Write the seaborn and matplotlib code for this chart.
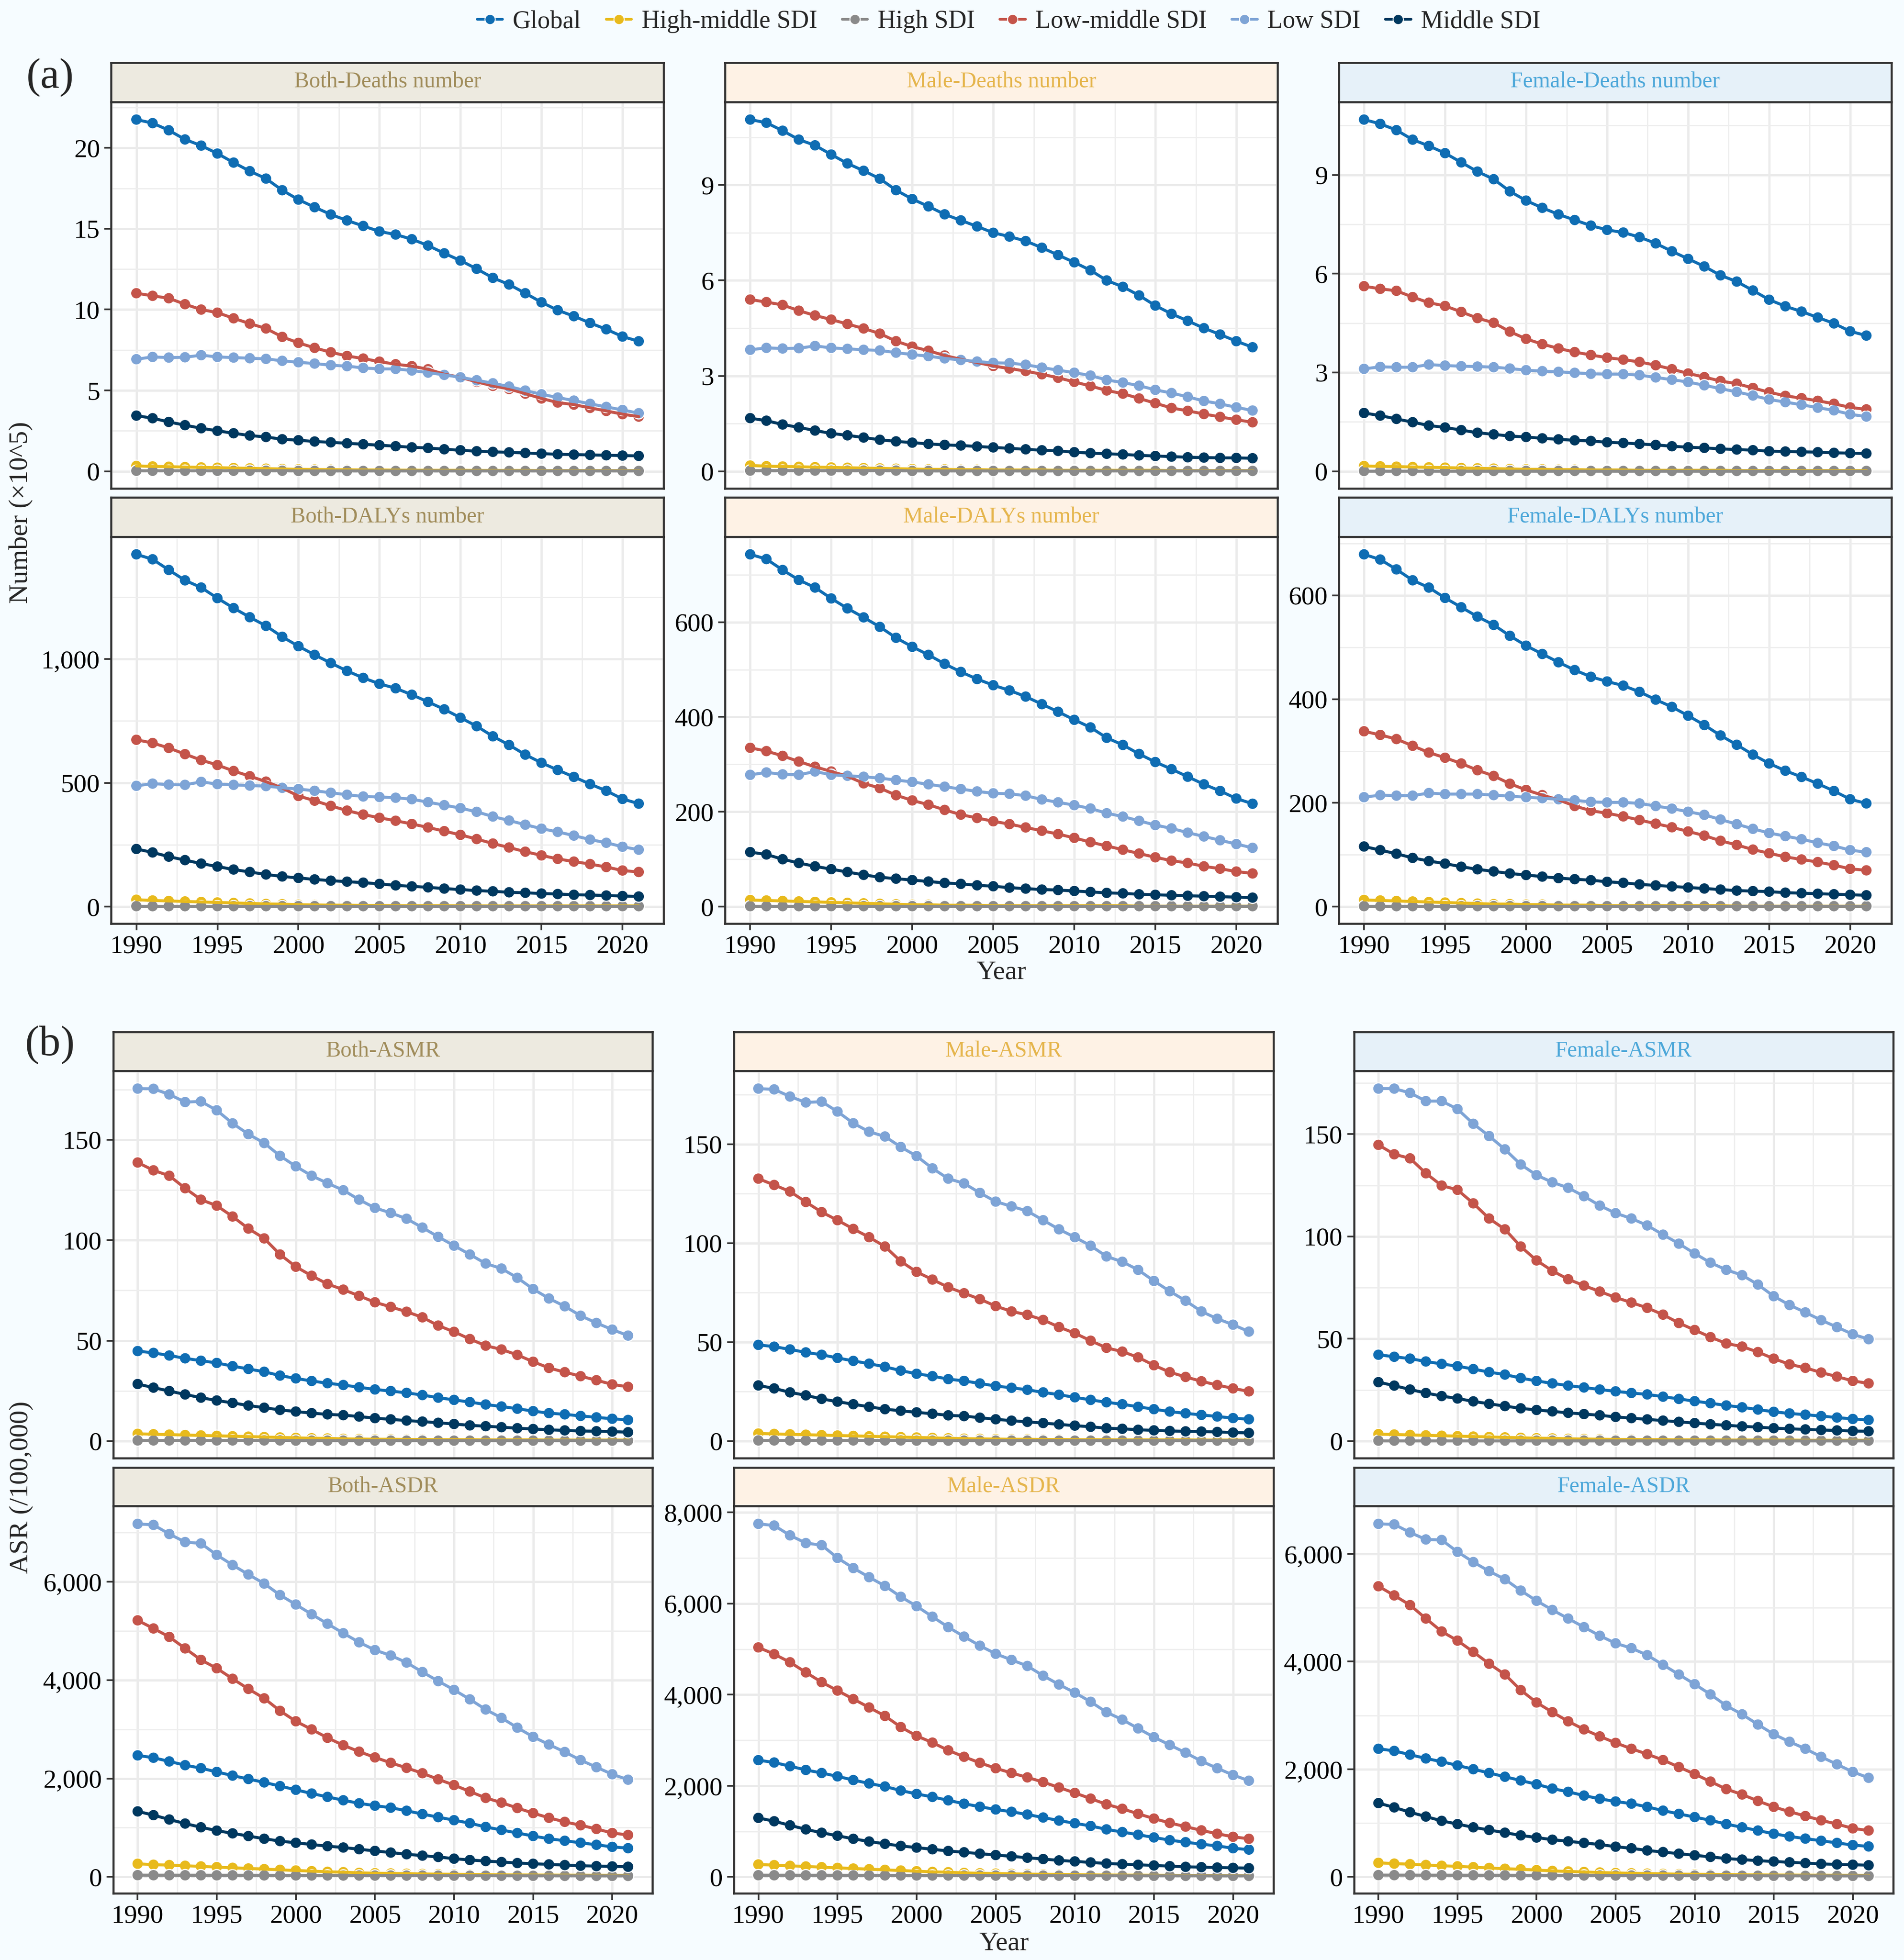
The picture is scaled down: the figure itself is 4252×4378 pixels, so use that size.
import numpy as np
import pandas as pd
import matplotlib
matplotlib.use("Agg")
import matplotlib.pyplot as plt
import seaborn as sns
from matplotlib.ticker import MultipleLocator, FuncFormatter
from matplotlib.lines import Line2D

sns.set_theme(style="white")
plt.rcParams['font.family'] = ['Liberation Serif', 'DejaVu Serif']

years = list(range(1990, 2022))
locations = ["Global", "High-middle SDI", "High SDI", "Low-middle SDI", "Low SDI", "Middle SDI"]
colors = ["#0F6DB3", "#E8BA1C", "#8A8A8A", "#C4544A", "#7EA4D6", "#00385F"]

# ---- (a) numbers ----
both_deaths = {
    "Global": [21.75, 21.53, 21.09, 20.52, 20.14, 19.65, 19.09, 18.56, 18.10, 17.38, 16.80, 16.33, 15.88, 15.51, 15.17, 14.83,
               14.64, 14.35, 13.96, 13.48, 13.03, 12.52, 11.96, 11.55, 11.01, 10.45, 9.96, 9.59, 9.17, 8.78, 8.33, 8.04],
    "High-middle SDI": [0.33, 0.30, 0.28, 0.26, 0.24, 0.22, 0.20, 0.18, 0.16, 0.14, 0.12, 0.11, 0.10, 0.09, 0.08, 0.08,
                        0.07, 0.07, 0.06, 0.06, 0.06, 0.05, 0.05, 0.05, 0.05, 0.04, 0.04, 0.04, 0.04, 0.04, 0.04, 0.04],
    "High SDI": [0.03, 0.03, 0.03, 0.03, 0.03, 0.03, 0.03, 0.03, 0.03, 0.03, 0.02, 0.02, 0.02, 0.02, 0.02, 0.02,
                 0.02, 0.02, 0.02, 0.02, 0.02, 0.02, 0.02, 0.02, 0.02, 0.02, 0.02, 0.02, 0.02, 0.02, 0.02, 0.02],
    "Low-middle SDI": [11.01, 10.85, 10.70, 10.33, 10.00, 9.81, 9.46, 9.13, 8.83, 8.31, 7.94, 7.63, 7.36, 7.13, 6.97, 6.78,
                       6.62, 6.50, 6.31, 6.00, 5.81, 5.53, 5.28, 5.09, 4.80, 4.50, 4.25, 4.12, 3.92, 3.73, 3.53, 3.38],
    "Low SDI": [6.93, 7.07, 7.03, 7.05, 7.18, 7.07, 7.03, 6.99, 6.95, 6.83, 6.74, 6.66, 6.56, 6.50, 6.39, 6.33,
                6.33, 6.23, 6.10, 5.96, 5.81, 5.63, 5.44, 5.24, 4.99, 4.76, 4.56, 4.37, 4.17, 3.98, 3.79, 3.59],
    "Middle SDI": [3.44, 3.28, 3.05, 2.85, 2.66, 2.50, 2.35, 2.21, 2.12, 1.98, 1.92, 1.84, 1.79, 1.73, 1.67, 1.61,
                   1.55, 1.48, 1.44, 1.36, 1.30, 1.24, 1.20, 1.17, 1.13, 1.09, 1.05, 1.03, 1.01, 0.99, 0.97, 0.95],
}
male_deaths = {
    "Global": [11.06, 10.96, 10.71, 10.43, 10.25, 9.96, 9.68, 9.45, 9.20, 8.84, 8.56, 8.33, 8.08, 7.89, 7.70, 7.50,
               7.38, 7.24, 7.03, 6.80, 6.57, 6.32, 6.00, 5.80, 5.53, 5.21, 4.95, 4.73, 4.50, 4.30, 4.09, 3.90],
    "High-middle SDI": [0.18, 0.16, 0.15, 0.14, 0.13, 0.12, 0.11, 0.10, 0.09, 0.08, 0.07, 0.06, 0.06, 0.05, 0.05, 0.04,
                        0.04, 0.04, 0.04, 0.03, 0.03, 0.03, 0.03, 0.03, 0.03, 0.03, 0.02, 0.02, 0.02, 0.02, 0.02, 0.02],
    "High SDI": [0.02, 0.02, 0.02, 0.02, 0.02, 0.02, 0.02, 0.02, 0.02, 0.02, 0.01, 0.01, 0.01, 0.01, 0.01, 0.01,
                 0.01, 0.01, 0.01, 0.01, 0.01, 0.01, 0.01, 0.01, 0.01, 0.01, 0.01, 0.01, 0.01, 0.01, 0.01, 0.01],
    "Low-middle SDI": [5.40, 5.32, 5.23, 5.05, 4.90, 4.77, 4.63, 4.49, 4.33, 4.09, 3.92, 3.79, 3.64, 3.52, 3.42, 3.31,
                       3.23, 3.15, 3.05, 2.94, 2.81, 2.68, 2.54, 2.44, 2.29, 2.14, 1.99, 1.90, 1.80, 1.71, 1.62, 1.54],
    "Low SDI": [3.82, 3.88, 3.86, 3.87, 3.94, 3.88, 3.85, 3.82, 3.80, 3.73, 3.67, 3.62, 3.55, 3.50, 3.45, 3.41,
                3.40, 3.35, 3.26, 3.18, 3.10, 3.01, 2.87, 2.79, 2.69, 2.56, 2.46, 2.34, 2.21, 2.12, 2.01, 1.91],
    "Middle SDI": [1.67, 1.59, 1.47, 1.38, 1.28, 1.19, 1.13, 1.06, 0.99, 0.94, 0.90, 0.86, 0.83, 0.81, 0.78, 0.75,
                   0.72, 0.69, 0.66, 0.64, 0.60, 0.57, 0.55, 0.53, 0.50, 0.48, 0.46, 0.44, 0.43, 0.42, 0.42, 0.41],
}
female_deaths = {
    "Global": [10.68, 10.55, 10.36, 10.07, 9.88, 9.66, 9.38, 9.10, 8.87, 8.50, 8.22, 8.00, 7.80, 7.63, 7.46, 7.33,
               7.25, 7.11, 6.92, 6.68, 6.45, 6.22, 5.95, 5.76, 5.49, 5.21, 5.01, 4.85, 4.67, 4.49, 4.25, 4.12],
    "High-middle SDI": [0.16, 0.15, 0.14, 0.13, 0.12, 0.11, 0.10, 0.09, 0.08, 0.07, 0.06, 0.06, 0.05, 0.05, 0.04, 0.04,
                        0.04, 0.03, 0.03, 0.03, 0.03, 0.03, 0.03, 0.02, 0.02, 0.02, 0.02, 0.02, 0.02, 0.02, 0.02, 0.02],
    "High SDI": [0.01, 0.01, 0.01, 0.01, 0.01, 0.01, 0.01, 0.01, 0.01, 0.01, 0.01, 0.01, 0.01, 0.01, 0.01, 0.01,
                 0.01, 0.01, 0.01, 0.01, 0.01, 0.01, 0.01, 0.01, 0.01, 0.01, 0.01, 0.01, 0.01, 0.01, 0.01, 0.01],
    "Low-middle SDI": [5.62, 5.54, 5.48, 5.29, 5.12, 5.02, 4.84, 4.65, 4.51, 4.24, 4.02, 3.86, 3.73, 3.62, 3.53, 3.45,
                       3.39, 3.32, 3.22, 3.10, 2.97, 2.86, 2.74, 2.66, 2.53, 2.40, 2.29, 2.22, 2.14, 2.05, 1.94, 1.88],
    "Low SDI": [3.11, 3.17, 3.16, 3.16, 3.24, 3.21, 3.19, 3.18, 3.16, 3.12, 3.07, 3.04, 3.02, 2.99, 2.96, 2.95,
                2.95, 2.92, 2.85, 2.78, 2.71, 2.61, 2.51, 2.41, 2.30, 2.18, 2.10, 2.02, 1.93, 1.85, 1.73, 1.66],
    "Middle SDI": [1.77, 1.69, 1.59, 1.49, 1.39, 1.33, 1.25, 1.17, 1.12, 1.07, 1.04, 1.00, 0.97, 0.94, 0.92, 0.88,
                   0.86, 0.83, 0.80, 0.76, 0.73, 0.71, 0.68, 0.66, 0.64, 0.61, 0.60, 0.59, 0.58, 0.56, 0.55, 0.54],
}
both_dalys = {
    "Global": [1423, 1403, 1360, 1318, 1289, 1246, 1206, 1169, 1134, 1090, 1052, 1017, 984, 952, 924, 900,
               882, 856, 827, 797, 763, 729, 688, 653, 614, 581, 552, 524, 495, 468, 435, 416],
    "High-middle SDI": [28, 25, 23, 21, 19, 17, 15, 13, 11, 10, 8, 7, 6, 6, 5, 5,
                        4, 4, 4, 4, 3, 3, 3, 3, 3, 3, 3, 3, 3, 3, 3, 3],
    "High SDI": [2, 2, 2, 2, 2, 2, 2, 2, 2, 2, 2, 2, 2, 2, 2, 2,
                 2, 2, 2, 2, 2, 2, 2, 2, 2, 2, 2, 2, 2, 2, 2, 2],
    "Low-middle SDI": [674, 661, 641, 616, 592, 572, 548, 527, 505, 479, 447, 428, 407, 388, 372, 359,
                       347, 334, 320, 305, 290, 273, 255, 239, 222, 207, 193, 182, 172, 160, 146, 140],
    "Low SDI": [488, 497, 493, 492, 504, 495, 492, 489, 487, 480, 475, 468, 460, 452, 445, 443,
                440, 434, 422, 410, 398, 383, 364, 348, 331, 315, 302, 287, 271, 258, 242, 230],
    "Middle SDI": [233, 219, 202, 188, 174, 162, 150, 140, 130, 122, 116, 110, 105, 101, 97, 92,
                   86, 82, 78, 73, 69, 65, 62, 58, 56, 53, 51, 48, 47, 45, 43, 41],
}
male_dalys = {
    "Global": [743, 733, 710, 689, 673, 650, 629, 610, 590, 567, 548, 531, 512, 495, 480, 467,
               456, 443, 427, 411, 394, 378, 356, 341, 322, 305, 290, 274, 258, 244, 228, 217],
    "High-middle SDI": [14, 13, 12, 11, 10, 9, 8, 7, 6, 5, 4, 4, 3, 3, 3, 2,
                        2, 2, 2, 2, 2, 2, 2, 2, 1, 1, 1, 1, 1, 1, 1, 1],
    "High SDI": [1, 1, 1, 1, 1, 1, 1, 1, 1, 1, 1, 1, 1, 1, 1, 1,
                 1, 1, 1, 1, 1, 1, 1, 1, 1, 1, 1, 1, 1, 1, 1, 1],
    "Low-middle SDI": [335, 328, 318, 306, 295, 285, 275, 260, 250, 235, 224, 215, 204, 194, 187, 180,
                       174, 167, 160, 153, 145, 136, 128, 120, 112, 104, 97, 92, 85, 80, 74, 70],
    "Low SDI": [278, 283, 279, 278, 285, 278, 276, 274, 271, 267, 263, 258, 253, 248, 243, 239,
                238, 234, 226, 220, 214, 207, 197, 190, 181, 172, 165, 156, 148, 140, 132, 124],
    "Middle SDI": [115, 110, 100, 92, 85, 79, 73, 67, 62, 59, 56, 53, 50, 48, 45, 43,
                   40, 38, 36, 35, 33, 31, 29, 28, 26, 25, 24, 23, 22, 21, 20, 19],
}
female_dalys = {
    "Global": [679, 669, 650, 629, 615, 595, 577, 559, 543, 522, 503, 487, 471, 456, 443, 434,
               426, 414, 399, 385, 368, 350, 330, 312, 293, 276, 262, 250, 237, 223, 207, 199],
    "High-middle SDI": [13, 12, 11, 10, 9, 8, 7, 6, 5, 5, 4, 4, 3, 3, 3, 2,
                        2, 2, 2, 2, 2, 2, 2, 1, 1, 1, 1, 1, 1, 1, 1, 1],
    "High SDI": [1, 1, 1, 1, 1, 1, 1, 1, 1, 1, 1, 1, 1, 1, 1, 1,
                 1, 1, 1, 1, 1, 1, 1, 1, 1, 1, 1, 1, 1, 1, 1, 1],
    "Low-middle SDI": [338, 331, 323, 310, 297, 287, 276, 263, 252, 237, 225, 215, 206, 194, 185, 180,
                       174, 167, 160, 153, 145, 137, 127, 119, 110, 103, 96, 91, 86, 80, 73, 70],
    "Low SDI": [211, 215, 214, 214, 219, 217, 217, 217, 215, 213, 211, 209, 207, 205, 202, 201,
                201, 199, 194, 189, 183, 177, 168, 159, 150, 142, 136, 130, 123, 117, 109, 105],
    "Middle SDI": [116, 109, 102, 94, 88, 83, 77, 72, 68, 64, 61, 58, 55, 53, 51, 48,
                   46, 43, 41, 39, 37, 35, 33, 31, 30, 29, 27, 26, 25, 24, 23, 22],
}

# ---- (b) age-standardised rates ----
both_asmr = {
    "Global": [44.8, 43.9, 42.6, 41.2, 40.0, 38.9, 37.3, 35.9, 34.5, 32.6, 31.2, 29.9, 28.8, 27.9, 26.8, 25.7,
               24.9, 24.0, 22.9, 21.6, 20.5, 19.4, 18.2, 17.2, 16.1, 14.9, 13.9, 13.3, 12.5, 11.8, 11.1, 10.5],
    "High-middle SDI": [3.6, 3.4, 3.2, 3.0, 2.8, 2.6, 2.4, 2.2, 2.0, 1.8, 1.6, 1.4, 1.3, 1.1, 1.0, 0.9,
                        0.9, 0.8, 0.8, 0.7, 0.7, 0.7, 0.6, 0.6, 0.6, 0.6, 0.5, 0.5, 0.5, 0.5, 0.5, 0.5],
    "High SDI": [0.3, 0.3, 0.3, 0.3, 0.3, 0.3, 0.3, 0.3, 0.3, 0.3, 0.2, 0.2, 0.2, 0.2, 0.2, 0.2,
                 0.2, 0.2, 0.2, 0.2, 0.2, 0.2, 0.2, 0.2, 0.2, 0.2, 0.2, 0.2, 0.2, 0.2, 0.2, 0.2],
    "Low-middle SDI": [138.7, 134.8, 132.1, 125.9, 120.2, 117.2, 111.8, 105.8, 100.9, 92.9, 86.8, 82.3, 78.2, 75.4, 72.3, 69.1,
                       66.8, 64.4, 61.6, 57.5, 54.4, 50.8, 47.5, 45.6, 42.9, 39.5, 36.4, 34.3, 32.3, 30.3, 28.2, 27.0],
    "Low SDI": [175.5, 175.4, 172.6, 168.8, 169.1, 164.7, 158.2, 152.8, 148.4, 142.0, 136.8, 132.1, 128.4, 124.9, 120.2, 116.1,
                113.6, 110.7, 106.3, 101.7, 97.3, 92.9, 88.4, 85.9, 81.3, 75.7, 71.0, 67.1, 62.4, 58.8, 55.5, 52.5],
    "Middle SDI": [28.4, 26.6, 24.9, 23.2, 21.6, 20.2, 19.0, 17.7, 16.6, 15.5, 14.7, 13.9, 13.3, 12.9, 12.2, 11.4,
                   10.8, 10.2, 9.7, 9.1, 8.5, 7.8, 7.4, 6.9, 6.4, 6.0, 5.6, 5.3, 5.0, 4.9, 4.7, 4.4],
}
male_asmr = {
    "Global": [48.6, 47.7, 46.3, 44.8, 43.6, 42.0, 40.5, 39.1, 37.5, 35.6, 34.0, 32.8, 31.3, 30.4, 29.1, 27.8,
               26.9, 25.9, 24.6, 23.4, 22.1, 20.8, 19.6, 18.6, 17.3, 16.1, 14.9, 14.0, 13.2, 12.4, 11.6, 11.0],
    "High-middle SDI": [3.8, 3.6, 3.4, 3.2, 3.0, 2.8, 2.6, 2.4, 2.2, 2.0, 1.8, 1.6, 1.4, 1.2, 1.1, 1.0,
                        0.9, 0.9, 0.8, 0.8, 0.7, 0.7, 0.7, 0.6, 0.6, 0.6, 0.6, 0.6, 0.5, 0.5, 0.5, 0.5],
    "High SDI": [0.3, 0.3, 0.3, 0.3, 0.3, 0.3, 0.3, 0.3, 0.3, 0.3, 0.2, 0.2, 0.2, 0.2, 0.2, 0.2,
                 0.2, 0.2, 0.2, 0.2, 0.2, 0.2, 0.2, 0.2, 0.2, 0.2, 0.2, 0.2, 0.2, 0.2, 0.2, 0.2],
    "Low-middle SDI": [132.6, 129.4, 126.1, 120.8, 115.7, 111.6, 107.2, 103.0, 98.3, 90.8, 85.5, 81.6, 77.7, 74.7, 71.7, 68.2,
                       65.5, 63.8, 61.2, 57.6, 54.5, 50.7, 47.1, 45.2, 42.3, 38.3, 34.8, 32.4, 30.2, 28.3, 26.6, 25.1],
    "Low SDI": [178.1, 177.7, 174.1, 171.1, 171.5, 166.5, 160.6, 156.3, 153.9, 148.6, 144.0, 137.8, 132.6, 130.2, 125.4, 121.0,
                118.6, 116.2, 111.6, 107.0, 103.0, 98.7, 93.3, 90.6, 86.5, 80.9, 75.7, 70.9, 65.5, 61.8, 58.8, 55.3],
    "Middle SDI": [28.1, 26.6, 24.6, 23.1, 21.3, 19.9, 18.6, 17.3, 16.1, 15.3, 14.5, 13.8, 13.0, 12.6, 11.8, 11.0,
                   10.3, 9.7, 9.1, 8.4, 7.8, 7.2, 6.5, 6.2, 5.7, 5.4, 5.1, 4.9, 4.8, 4.6, 4.3, 4.1],
}
female_asmr = {
    "Global": [42.2, 41.2, 40.3, 38.9, 37.7, 36.6, 35.2, 33.7, 32.5, 30.8, 29.4, 28.2, 27.1, 26.2, 25.2, 24.3,
               23.5, 22.8, 21.7, 20.6, 19.5, 18.5, 17.4, 16.5, 15.4, 14.3, 13.5, 12.9, 12.2, 11.5, 10.8, 10.3],
    "High-middle SDI": [3.4, 3.2, 3.0, 2.8, 2.6, 2.4, 2.2, 2.0, 1.8, 1.6, 1.4, 1.3, 1.1, 1.0, 0.9, 0.8,
                        0.8, 0.7, 0.7, 0.6, 0.6, 0.6, 0.5, 0.5, 0.5, 0.5, 0.5, 0.4, 0.4, 0.4, 0.4, 0.4],
    "High SDI": [0.2, 0.2, 0.2, 0.2, 0.2, 0.2, 0.2, 0.2, 0.2, 0.2, 0.2, 0.2, 0.2, 0.2, 0.2, 0.2,
                 0.2, 0.2, 0.2, 0.2, 0.2, 0.2, 0.2, 0.2, 0.2, 0.2, 0.2, 0.2, 0.2, 0.2, 0.2, 0.2],
    "Low-middle SDI": [144.8, 140.2, 138.2, 130.9, 124.9, 122.8, 116.2, 108.8, 103.5, 95.1, 88.3, 83.2, 79.1, 76.0, 73.1, 70.2,
                       67.7, 65.1, 61.8, 57.7, 54.3, 50.8, 47.7, 46.2, 43.5, 40.3, 37.5, 35.8, 33.5, 31.5, 29.4, 28.2],
    "Low SDI": [172.3, 172.3, 170.2, 166.2, 166.2, 162.3, 155.1, 149.1, 142.6, 135.2, 130.0, 126.5, 123.8, 119.7, 115.1, 111.4,
                108.8, 105.4, 100.9, 96.5, 91.7, 87.2, 83.7, 81.1, 76.5, 70.8, 66.5, 62.9, 59.1, 55.7, 52.2, 49.8],
    "Middle SDI": [28.8, 27.1, 25.2, 23.5, 22.0, 20.8, 19.4, 18.2, 17.1, 16.0, 15.2, 14.5, 13.8, 13.2, 12.6, 11.8,
                   11.2, 10.6, 10.0, 9.4, 8.8, 8.2, 7.7, 7.2, 6.8, 6.3, 6.0, 5.7, 5.4, 5.2, 4.9, 4.8],
}
both_asdr = {
    "Global": [2469, 2421, 2346, 2270, 2209, 2133, 2058, 1989, 1920, 1845, 1770, 1694, 1626, 1557, 1495, 1447,
               1406, 1344, 1276, 1214, 1152, 1091, 1015, 953, 892, 830, 775, 734, 693, 652, 610, 583],
    "High-middle SDI": [267, 247, 240, 226, 213, 199, 185, 171, 158, 144, 130, 117, 103, 96, 82, 75,
                        70, 65, 60, 56, 52, 48, 45, 42, 40, 38, 36, 34, 33, 32, 31, 30],
    "High SDI": [35, 34, 34, 33, 33, 32, 32, 31, 31, 30, 30, 29, 29, 28, 28, 27,
                 27, 26, 26, 25, 25, 24, 24, 23, 23, 22, 22, 21, 21, 20, 20, 20],
    "Low-middle SDI": [5213, 5048, 4877, 4643, 4410, 4239, 4026, 3820, 3628, 3374, 3162, 2997, 2826, 2675, 2545, 2428,
                       2318, 2215, 2106, 1982, 1866, 1735, 1605, 1509, 1399, 1296, 1200, 1118, 1049, 974, 892, 851],
    "Low SDI": [7174, 7153, 6968, 6804, 6776, 6543, 6337, 6145, 5960, 5727, 5535, 5336, 5144, 4952, 4767, 4609,
                4499, 4355, 4163, 3978, 3800, 3608, 3402, 3230, 3032, 2846, 2689, 2538, 2373, 2229, 2085, 1975],
    "Middle SDI": [1331, 1255, 1166, 1084, 1008, 940, 885, 830, 775, 727, 693, 658, 624, 597, 562, 528,
                   494, 460, 432, 405, 370, 343, 322, 302, 281, 267, 254, 240, 226, 219, 213, 206],
}
male_asdr = {
    "Global": [2563, 2511, 2430, 2348, 2281, 2207, 2126, 2052, 1985, 1896, 1822, 1756, 1681, 1607, 1541, 1481,
               1430, 1370, 1304, 1237, 1178, 1119, 1044, 985, 926, 867, 807, 763, 719, 681, 630, 600],
    "High-middle SDI": [274, 259, 244, 230, 215, 200, 185, 170, 156, 141, 126, 111, 104, 89, 81, 74,
                        68, 63, 58, 54, 50, 46, 43, 40, 38, 36, 34, 32, 31, 30, 29, 28],
    "High SDI": [38, 37, 37, 36, 36, 35, 35, 34, 34, 33, 33, 32, 32, 31, 31, 30,
                 30, 29, 29, 28, 28, 27, 27, 26, 26, 25, 25, 24, 24, 23, 23, 23],
    "Low-middle SDI": [5037, 4889, 4711, 4489, 4274, 4089, 3904, 3719, 3533, 3289, 3096, 2948, 2778, 2637, 2504, 2385,
                       2281, 2185, 2081, 1963, 1844, 1719, 1593, 1496, 1385, 1281, 1185, 1104, 1022, 948, 881, 837],
    "Low SDI": [7748, 7711, 7496, 7326, 7281, 7000, 6778, 6578, 6385, 6148, 5941, 5711, 5481, 5274, 5074, 4896,
                4763, 4630, 4415, 4222, 4044, 3844, 3615, 3452, 3259, 3067, 2896, 2726, 2541, 2385, 2237, 2111],
    "Middle SDI": [1296, 1222, 1133, 1044, 970, 904, 837, 778, 726, 681, 644, 607, 570, 541, 511, 481,
                   452, 422, 393, 363, 341, 319, 296, 281, 267, 252, 237, 222, 215, 207, 200, 193],
}
female_asdr = {
    "Global": [2380, 2340, 2270, 2200, 2140, 2070, 2000, 1930, 1860, 1790, 1720, 1640, 1580, 1510, 1450, 1400,
               1360, 1300, 1230, 1170, 1110, 1050, 980, 920, 860, 800, 750, 710, 670, 630, 590, 565],
    "High-middle SDI": [260, 245, 235, 220, 205, 195, 180, 165, 150, 140, 125, 110, 100, 90, 80, 72,
                        66, 60, 55, 50, 47, 44, 41, 38, 36, 34, 32, 30, 29, 28, 27, 26],
    "High SDI": [32, 31, 31, 30, 30, 29, 29, 28, 28, 27, 27, 26, 26, 25, 25, 24,
                 24, 23, 23, 22, 22, 21, 21, 20, 20, 19, 19, 18, 18, 17, 17, 17],
    "Low-middle SDI": [5400, 5230, 5050, 4800, 4560, 4390, 4180, 3960, 3760, 3470, 3240, 3060, 2890, 2740, 2610, 2490,
                       2380, 2280, 2170, 2040, 1910, 1770, 1630, 1530, 1410, 1300, 1210, 1130, 1050, 980, 900, 860],
    "Low SDI": [6560, 6550, 6400, 6270, 6260, 6040, 5850, 5680, 5530, 5320, 5130, 4960, 4800, 4640, 4480, 4340,
                4250, 4120, 3940, 3760, 3580, 3390, 3180, 3020, 2830, 2650, 2510, 2380, 2230, 2090, 1950, 1840],
    "Middle SDI": [1370, 1290, 1200, 1120, 1040, 980, 920, 870, 820, 770, 730, 690, 660, 630, 600, 560,
                   530, 490, 460, 430, 400, 370, 340, 320, 300, 285, 270, 255, 240, 230, 225, 215],
}

# strip styling per sex
strip_fill = {"Both": "#EDEAE0", "Male": "#FEF2E5", "Female": "#E6F1F9"}
strip_text = {"Both": "#A08C5A", "Male": "#E5B54C", "Female": "#4CA7D9"}

W, H = 1523.0, 1568.0  # layout reference grid
fig = plt.figure(figsize=(4252 / 300, 4378 / 300), dpi=300)
fig.patch.set_facecolor("#F6FCFF")


def rect(x0, x1, y0, y1):
    return [x0 / W, 1 - y1 / H, (x1 - x0) / W, (y1 - y0) / H]


def fmt(v, p):
    if abs(v - round(v)) < 1e-9:
        return f"{v:,.0f}"
    return f"{v:g}"


def draw_panel(data, title, sex, cols, strip_y, panel_y, ystep, bottom):
    x0, x1 = cols
    sax = fig.add_axes(rect(x0, x1, strip_y[0], strip_y[1]))
    sax.set_facecolor(strip_fill[sex])
    sax.set_xticks([])
    sax.set_yticks([])
    for s in sax.spines.values():
        s.set_color("#333333")
        s.set_linewidth(1.1)
    sax.text(0.5, 0.5, title, ha="center", va="center", fontsize=12, color=strip_text[sex],
             transform=sax.transAxes)

    ax = fig.add_axes(rect(x0, x1, panel_y[0], panel_y[1]))
    ax.set_facecolor("white")
    df = pd.DataFrame({
        "year": np.tile(years, len(locations)),
        "location": np.repeat(locations, len(years)),
        "value": np.concatenate([data[k] for k in locations]),
    })
    pal = dict(zip(locations, colors))
    sns.scatterplot(data=df, x="year", y="value", hue="location", hue_order=locations, palette=pal,
                    s=38, edgecolor="white", linewidth=0.6, legend=False, ax=ax, zorder=3)
    sns.lineplot(data=df, x="year", y="value", hue="location", hue_order=locations, palette=pal,
                 linewidth=1.6, legend=False, ax=ax, zorder=4, errorbar=None)
    vmax = df["value"].max()
    vmin = df["value"].min()
    pad = 0.05 * (vmax - vmin)
    ax.set_ylim(vmin - pad, vmax + pad)
    ax.set_xlim(1990 - 1.55, 2021 + 1.55)
    ax.xaxis.set_major_locator(MultipleLocator(5))
    ax.xaxis.set_minor_locator(MultipleLocator(2.5))
    ax.yaxis.set_major_locator(MultipleLocator(ystep))
    ax.yaxis.set_minor_locator(MultipleLocator(ystep / 2))
    ax.yaxis.set_major_formatter(FuncFormatter(fmt))
    ax.grid(which="major", color="#EBEBEB", linewidth=1.2)
    ax.grid(which="minor", color="#EEEEEE", linewidth=0.7)
    ax.set_axisbelow(True)
    for s in ax.spines.values():
        s.set_color("#333333")
        s.set_linewidth(1.1)
    ax.tick_params(which="major", direction="out", length=3.5, width=0.9, color="#333333",
                   labelsize=14, labelcolor="black", pad=2.5, left=True, bottom=bottom)
    ax.tick_params(which="minor", length=0)
    if not bottom:
        ax.set_xticklabels([])
    ax.set_xlabel("")
    ax.set_ylabel("")
    return ax


# ---- (a) ----
a_cols = [(89, 531), (580, 1022), (1071, 1513)]
a_rows = [((50, 81.6), (81.6, 390.8)), ((398, 429.4), (429.4, 739))]
a_panels = [
    [(both_deaths, "Both-Deaths number", "Both", 5), (male_deaths, "Male-Deaths number", "Male", 3),
     (female_deaths, "Female-Deaths number", "Female", 3)],
    [(both_dalys, "Both-DALYs number", "Both", 500), (male_dalys, "Male-DALYs number", "Male", 200),
     (female_dalys, "Female-DALYs number", "Female", 200)],
]
for r, row in enumerate(a_panels):
    for c, (d, t, sx, st) in enumerate(row):
        draw_panel(d, t, sx, a_cols[c], a_rows[r][0], a_rows[r][1], st, bottom=(r == 1))

# ---- (b) ----
b_cols = [(90.5, 522), (587, 1018.6), (1083, 1514.3)]
b_rows = [((825.6, 856.8), (856.8, 1166.6)), ((1173.9, 1205), (1205, 1514.8))]
b_panels = [
    [(both_asmr, "Both-ASMR", "Both", 50), (male_asmr, "Male-ASMR", "Male", 50),
     (female_asmr, "Female-ASMR", "Female", 50)],
    [(both_asdr, "Both-ASDR", "Both", 2000), (male_asdr, "Male-ASDR", "Male", 2000),
     (female_asdr, "Female-ASDR", "Female", 2000)],
]
for r, row in enumerate(b_panels):
    for c, (d, t, sx, st) in enumerate(row):
        draw_panel(d, t, sx, b_cols[c], b_rows[r][0], b_rows[r][1], st, bottom=(r == 1))

# labels
fig.text(40 / W, 1 - 62 / H, "(a)", fontsize=23, ha="center", va="center")
fig.text(40 / W, 1 - 836 / H, "(b)", fontsize=23, ha="center", va="center")
fig.text(17 / W, 1 - 410 / H, "Number (×10^5)", rotation=90, fontsize=14.5, ha="center", va="center")
fig.text(17 / W, 1 - 1190 / H, "ASR (/100,000)", rotation=90, fontsize=14.5, ha="center", va="center")
fig.text(801 / W, 1 - 778 / H, "Year", fontsize=14.5, ha="center", va="center")
fig.text(803 / W, 1 - 1555 / H, "Year", fontsize=14.5, ha="center", va="center")

handles = [Line2D([0], [0], color=c, marker="o", markersize=5.5, linewidth=1.5,
                  markeredgecolor="white", markeredgewidth=0.5) for c in colors]
fig.legend(handles, locations, loc="center", bbox_to_anchor=(807 / W, 1 - 17.3 / H), ncol=6,
           frameon=False, fontsize=13.5, handlelength=1.0, handletextpad=0.4, columnspacing=1.0)

fig.savefig("out.png", dpi=300, facecolor=fig.get_facecolor())
